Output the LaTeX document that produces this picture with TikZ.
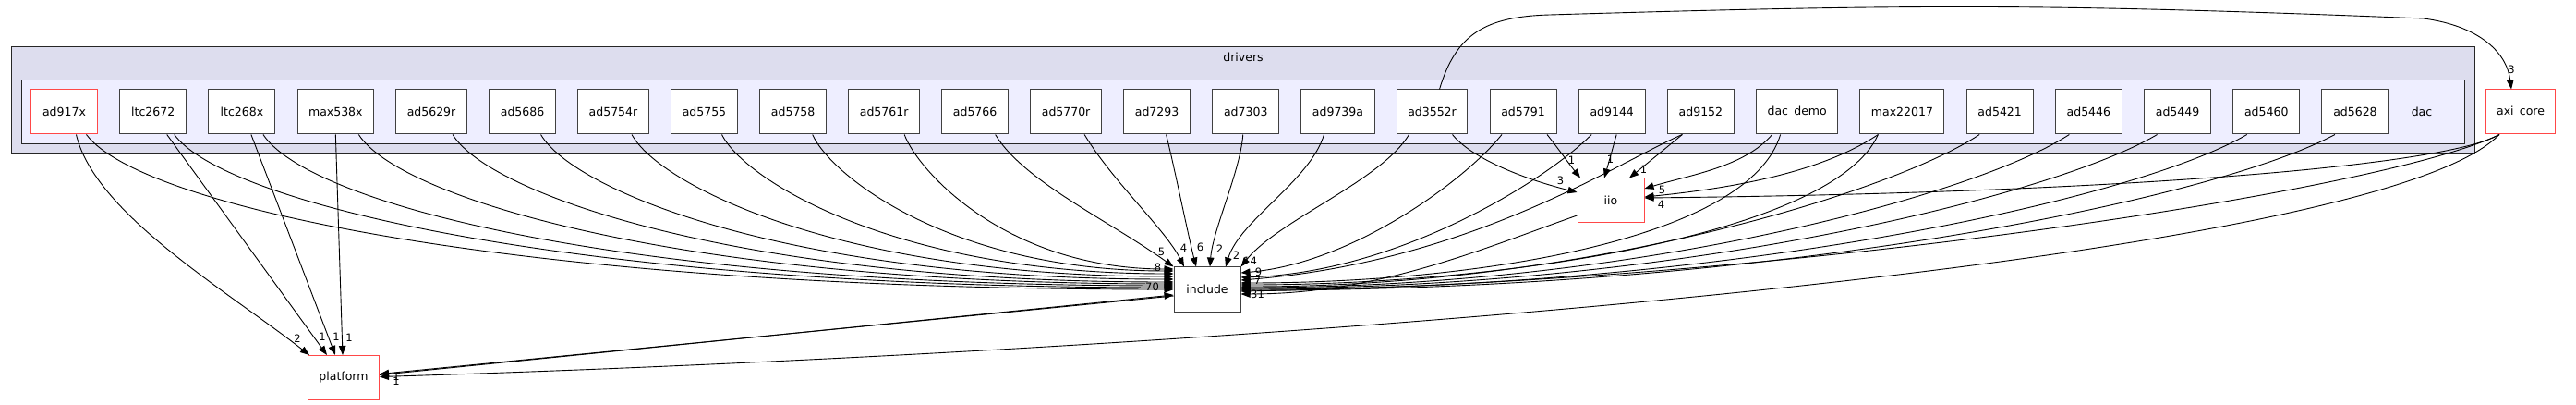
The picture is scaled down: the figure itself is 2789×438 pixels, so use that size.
\documentclass[tikz,border=0pt]{standalone}
\usepackage{fontspec}
\setmainfont{DejaVu Sans}
\usetikzlibrary{arrows.meta, positioning, calc}

\definecolor{drvfill}{RGB}{221,221,238}
\definecolor{dacfill}{RGB}{238,238,255}
\definecolor{redline}{RGB}{255,72,72}
\definecolor{boxline}{RGB}{64,64,64}

\begin{document}
\begin{tikzpicture}[
    x=1pt, y=-1pt,
    font=\fontsize{12.5pt}{15pt}\selectfont,
    dirbox/.style = {draw=boxline, fill=white, line width=1pt, minimum width=72pt, minimum height=48pt, inner xsep=12pt, inner ysep=0pt},
    redbox/.style = {dirbox, draw=redline},
    group/.style = {draw=black!85, line width=0.9pt},
    lbl/.style = {inner sep=0pt, font=\fontsize{11.5pt}{13pt}\selectfont},
    dep/.style = {-{Triangle[length=10pt, width=7.5pt]}, line width=0.9pt}
]
\useasboundingbox (0,0) rectangle (2789,438);

% =========================================================
% CLUSTERS: drivers / dac
% =========================================================
\draw[group, fill=drvfill] (12.5,50) rectangle (2679,166);
\node (drvlabel) at (1346,62) {drivers};
\draw[group, fill=dacfill] (23.5,86) rectangle (2668,155);
\node (daclabel) at (2622,121) {dac};

% =========================================================
% DAC SUBDIRECTORIES (one row, left to right)
% =========================================================
\node[redbox] (ad917x) at (69.5,121) {ad917x};
\node[dirbox, right=23.2pt of ad917x] (ltc2672) {ltc2672};
\node[dirbox, right=23.2pt of ltc2672] (ltc268x) {ltc268x};
\node[dirbox, right=23.2pt of ltc268x] (max538x) {max538x};
\node[dirbox, right=23.2pt of max538x] (ad5629r) {ad5629r};
\node[dirbox, right=23.2pt of ad5629r] (ad5686) {ad5686};
\node[dirbox, right=23.2pt of ad5686] (ad5754r) {ad5754r};
\node[dirbox, right=23.2pt of ad5754r] (ad5755) {ad5755};
\node[dirbox, right=23.2pt of ad5755] (ad5758) {ad5758};
\node[dirbox, right=23.2pt of ad5758] (ad5761r) {ad5761r};
\node[dirbox, right=23.2pt of ad5761r] (ad5766) {ad5766};
\node[dirbox, right=23.2pt of ad5766] (ad5770r) {ad5770r};
\node[dirbox, right=23.2pt of ad5770r] (ad7293) {ad7293};
\node[dirbox, right=23.2pt of ad7293] (ad7303) {ad7303};
\node[dirbox, right=23.2pt of ad7303] (ad9739a) {ad9739a};
\node[dirbox, right=23.2pt of ad9739a] (ad3552r) {ad3552r};
\node[dirbox, right=23.2pt of ad3552r] (ad5791) {ad5791};
\node[dirbox, right=23.2pt of ad5791] (ad9144) {ad9144};
\node[dirbox, right=23.2pt of ad9144] (ad9152) {ad9152};
\node[dirbox, right=23.2pt of ad9152] (dacdemo) {dac\_demo};
\node[dirbox, right=23.2pt of dacdemo] (max22017) {max22017};
\node[dirbox, right=23.2pt of max22017] (ad5421) {ad5421};
\node[dirbox, right=23.2pt of ad5421] (ad5446) {ad5446};
\node[dirbox, right=23.2pt of ad5446] (ad5449) {ad5449};
\node[dirbox, right=23.2pt of ad5449] (ad5460) {ad5460};
\node[dirbox, right=23.2pt of ad5460] (ad5628) {ad5628};

% =========================================================
% OUTSIDE DIRECTORIES
% =========================================================
\node[redbox] (axicore) at (2729,121) {axi\_core};
\node[redbox] (iio) at (1744,217) {iio};
\node[dirbox] (include) at (1307,313) {include};
\node[redbox] (platform) at (372,408.5) {platform};

% =========================================================
% INTO include: from the left
% =========================================================
\draw[dep] ([xshift=24pt]ad917x.south) .. controls +(60,80) and +(-700,0) .. (include.west);
\draw[dep] ([xshift=23pt]ltc2672.south) .. controls +(55,75) and +(-650,0) .. ([yshift=2pt]include.west);
\draw[dep] ([xshift=23pt]ltc268x.south) .. controls +(50,75) and +(-600,0) .. ([yshift=4pt]include.west);
\draw[dep] ([xshift=25pt]max538x.south) .. controls +(45,70) and +(-530,0) .. ([yshift=6pt]include.west);
\draw[dep] ([xshift=23pt]ad5629r.south) .. controls +(40,65) and +(-470,0) .. ([yshift=8pt]include.west);
\draw[dep] ([xshift=20pt]ad5686.south) .. controls +(35,60) and +(-420,0) .. ([yshift=11pt]include.west);
\draw[dep] ([xshift=20pt]ad5754r.south) .. controls +(30,55) and +(-360,0) .. ([yshift=14pt]include.west);
\draw[dep] ([xshift=19pt]ad5755.south) .. controls +(25,50) and +(-300,0) .. ([yshift=17pt]include.west);
\draw[dep] ([xshift=21pt]ad5758.south) .. controls +(20,45) and +(-240,0) .. ([yshift=20pt]include.west);
\draw[dep] ([xshift=22pt]ad5761r.south) .. controls +(15,40) and +(-180,0) .. ([yshift=22pt]include.west);

% =========================================================
% INTO include: from above
% =========================================================
\draw[dep] ([xshift=22pt]ad5766.south) .. controls +(30,50) and +(-70,-50) .. (include.north west);
\draw[dep] ([xshift=20pt]ad5770r.south) .. controls +(30,50) and +(-20,-40) .. ([xshift=-25pt]include.north);
\draw[dep] ([xshift=10pt]ad7293.south) .. controls +(10,40) and +(-10,-40) .. ([xshift=-12pt]include.north);
\draw[dep] ([xshift=-3pt]ad7303.south) .. controls +(-3,40) and +(3,-40) .. ([xshift=3pt]include.north);
\draw[dep] ([xshift=-15pt]ad9739a.south) .. controls +(-15,50) and +(15,-50) .. ([xshift=20pt]include.north);
\draw[dep] ([xshift=-25pt]ad3552r.south) .. controls +(-30,50) and +(40,-50) .. (include.north east);

% =========================================================
% INTO include: from the right
% =========================================================
\draw[dep] ([xshift=-23pt]ad5791.south) .. controls +(-40,50) and +(120,-10) .. ([yshift=18pt]include.east);
\draw[dep] ([xshift=-22pt]ad9144.south) .. controls +(-50,50) and +(170,-5) .. ([yshift=13pt]include.east);
\draw[dep] ([xshift=-20pt]ad9152.south) .. controls +(-70,30) and +(250,-20) .. ([yshift=10pt]include.east);
\draw[dep] ([xshift=-18pt]dacdemo.south) .. controls +(-35,115) and +(250,0) .. ([yshift=7pt]include.east);
\draw[dep] ([xshift=-26pt]max22017.south) .. controls +(-47,105) and +(297,0) .. ([yshift=5pt]include.east);
\draw[dep] ([xshift=-22pt]ad5421.south) .. controls +(-90,60) and +(380,0) .. ([yshift=3pt]include.east);
\draw[dep] ([xshift=-21pt]ad5446.south) .. controls +(-100,65) and +(430,0) .. ([yshift=2pt]include.east);
\draw[dep] ([xshift=-22pt]ad5449.south) .. controls +(-110,65) and +(480,0) .. ([yshift=1pt]include.east);
\draw[dep] ([xshift=-21pt]ad5460.south) .. controls +(-120,70) and +(530,0) .. (include.east);
\draw[dep] ([xshift=-22pt]ad5628.south) .. controls +(-130,70) and +(580,0) .. ([yshift=-1pt]include.east);
\draw[dep] ([xshift=-23pt]axicore.south) .. controls +(-122,60) and +(600,-10) .. ([yshift=-2pt]include.east);
\draw[dep] ([yshift=-16pt]iio.west) .. controls +(-100,35) and +(150,0) .. ([yshift=-5pt]include.east);

% =========================================================
% INTO iio
% =========================================================
\draw[dep] ([xshift=22pt]ad3552r.south) .. controls +(20,25) and +(-60,-15) .. ([yshift=9pt]iio.west);
\draw[dep] ([xshift=26pt]ad5791.south) .. controls +(12,15) and +(-12,-15) .. ([xshift=-33pt]iio.north);
\draw[dep] ([xshift=5pt]ad9144.south) -- ([xshift=-7pt]iio.north);
\draw[dep] ([xshift=-20pt]ad9152.south) -- ([xshift=20pt]iio.north);
\draw[dep] ([xshift=-27pt]dacdemo.south) .. controls +(-30,35) and +(50,-15) .. ([yshift=13pt]iio.east);
\draw[dep] ([xshift=-26pt]max22017.south) .. controls +(-60,40) and +(100,-10) .. ([yshift=4pt]iio.east);
\draw[dep] ([xshift=-23pt]axicore.south) .. controls +(-60,35) and +(500,-5) .. ([yshift=3pt]iio.east);

% =========================================================
% INTO platform (and back to include)
% =========================================================
\draw[dep] ([xshift=13pt]ad917x.south) .. controls +(20,85) and +(-90,-70) .. ([xshift=-37pt]platform.north);
\draw[dep] ([xshift=15pt]ltc2672.south) -- ([xshift=-18pt]platform.north);
\draw[dep] ([xshift=10pt]ltc268x.south) -- ([xshift=-9pt]platform.north);
\draw[dep] (max538x.south) -- ([xshift=-1pt]platform.north);
\draw[dep] ([yshift=-7pt]include.west) -- ([yshift=4pt]platform.east);
\draw[dep] ([yshift=3pt]platform.east) -- ([yshift=-6pt]include.west);
\draw[dep] ([xshift=-23pt]axicore.south) .. controls +(-142,145) and +(883,-27) .. ([yshift=1pt]platform.east);

% =========================================================
% ad3552r UP AND OVER TO axi_core
% =========================================================
\coordinate (topA) at (1678,16);
\coordinate (topB) at (2624,20);
\draw[dep] ([xshift=8pt]ad3552r.north) .. controls +(18,-60) and +(-70,2) .. (topA)
           .. controls +(400,-12) and +(-400,-16) .. (topB)
           .. controls +(60,8) and +(-5,-40) .. ([xshift=-10pt]axicore.north);

% =========================================================
% EDGE COUNTS
% =========================================================
\node[lbl] at ($(include.north west)+(-13,-16)$) {5};
\node[lbl] at ($(include.north west)+(11,-20)$) {4};
\node[lbl] at ($(include.north west)+(29,-21)$) {6};
\node[lbl] at ($(include.north west)+(50,-19)$) {2};
\node[lbl] at ($(include.north west)+(68,-12)$) {2};
\node[lbl] at ($(include.north west)+(83,-6)$) {14};
\node[lbl] at ($(include.north west)+(92,6)$) {9};
\node[lbl] at ($(include.north west)+(91,15)$) {7};
\node[lbl] at ($(include.north west)+(91,30)$) {31};
\node[lbl] at ($(include.north west)+(-17,1)$) {8};
\node[lbl] at ($(include.north west)+(-23,22)$) {70};

\node[lbl] at ($(iio.north west)+(-18,3)$) {3};
\node[lbl] at ($(iio.north west)+(-6,-19)$) {1};
\node[lbl] at ($(iio.north west)+(36,-20)$) {1};
\node[lbl] at ($(iio.north west)+(72,-9)$) {1};
\node[lbl] at ($(iio.north west)+(92,13)$) {5};
\node[lbl] at ($(iio.north west)+(91,29)$) {4};

\node[lbl] at ($(platform.north west)+(-11,-18)$) {2};
\node[lbl] at ($(platform.north west)+(16,-20)$) {1};
\node[lbl] at ($(platform.north west)+(31,-20)$) {1};
\node[lbl] at ($(platform.north west)+(45,-19)$) {1};
\node[lbl] at ($(platform.north west)+(96,23)$) {1};
\node[lbl] at ($(platform.north west)+(96,28)$) {1};

\node[lbl] at ($(axicore.north)+(-10,-21)$) {3};

\end{tikzpicture}
\end{document}
